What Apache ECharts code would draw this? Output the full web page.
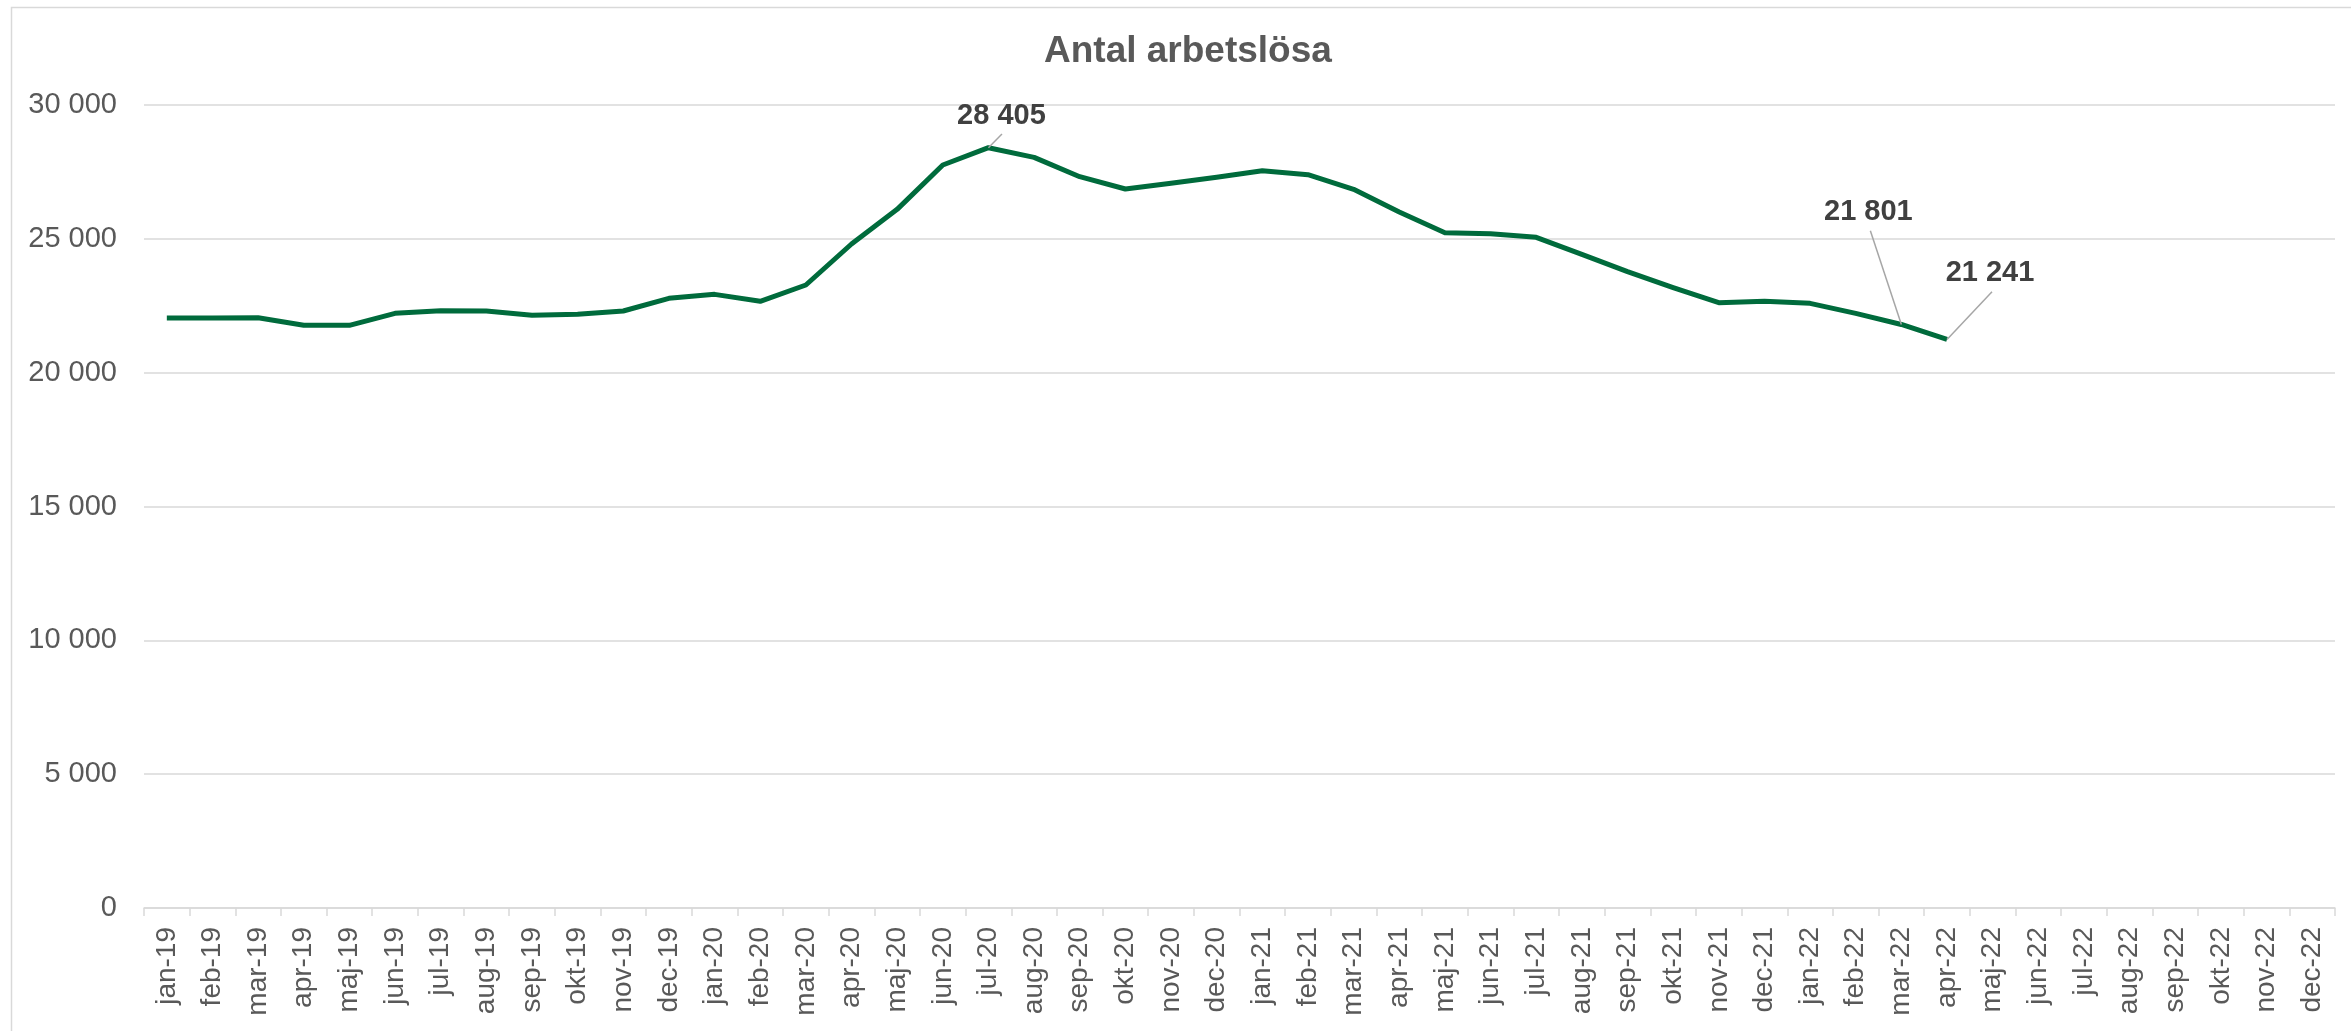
<!DOCTYPE html>
<html>
<head>
<meta charset="utf-8">
<script src="https://cdn.jsdelivr.net/npm/echarts@6/dist/echarts.min.js"></script>
<style>
html,body{margin:0;padding:0;background:#fff;}
#chart{width:2351px;height:1031px;}
</style>
</head>
<body>
<div id="chart"></div>
<script>
const categories = [
  'jan-19','feb-19','mar-19','apr-19','maj-19','jun-19','jul-19','aug-19','sep-19','okt-19','nov-19','dec-19',
  'jan-20','feb-20','mar-20','apr-20','maj-20','jun-20','jul-20','aug-20','sep-20','okt-20','nov-20','dec-20',
  'jan-21','feb-21','mar-21','apr-21','maj-21','jun-21','jul-21','aug-21','sep-21','okt-21','nov-21','dec-21',
  'jan-22','feb-22','mar-22','apr-22','maj-22','jun-22','jul-22','aug-22','sep-22','okt-22','nov-22','dec-22'
];
const unemployed = [
  22042, 22042, 22053, 21769, 21769, 22217, 22316, 22303, 22142, 22180, 22303, 22777,
  22926, 22665, 23275, 24807, 26102, 27758, 28405, 28045, 27322, 26862, 27074, 27298,
  27546, 27397, 26849, 26000, 25230, 25192, 25056, 24421, 23773, 23175, 22614, 22665,
  22590, 22217, 21801, 21241
];
const labeledMonths = ['jul-20', 'mar-22', 'apr-22'];
const yMin = 0, yMax = 30000, yStep = 5000;
const titleText = 'Antal arbetslösa';

function fmt(v) {
  return String(Math.round(v)).replace(/\B(?=(\d{3})+(?!\d))/g, ' ');
}

// label offsets (dx, dy) relative to default 'top' position
const labelOffsets = {
  'jul-20': [13, -12],
  'mar-22': [-33, -93],
  'apr-22': [43, -47]
};
// leader line end offsets from the data point
const leaderOffsets = {
  'jul-20': [13.5, -13.7],
  'mar-22': [-31, -93.6],
  'apr-22': [45, -47.6]
};

const seriesData = unemployed.map((v, i) => {
  const c = categories[i];
  if (labeledMonths.indexOf(c) >= 0) {
    return { value: v, label: { show: true } };
  }
  return v;
});

const borderRect = {
  id: 'border',
  type: 'rect',
  shape: { x: 11.5, y: 7.5, width: 2400, height: 1100 },
  style: { fill: null, stroke: '#d9d9d9', lineWidth: 1.5 },
  silent: true,
  z: -1
};

const chart = echarts.init(document.getElementById('chart'), null, { renderer: 'canvas' });
chart.setOption({
  animation: false,
  backgroundColor: '#ffffff',
  title: {
    text: titleText,
    left: 1044,
    top: 33,
    padding: 0,
    textStyle: {
      fontFamily: 'Liberation Sans, Arial, sans-serif',
      fontSize: 37,
      fontWeight: 'bold',
      color: '#595959'
    }
  },
  graphic: [borderRect],
  grid: { left: 144, right: 16, top: 105, bottom: 123, containLabel: false },
  xAxis: {
    type: 'category',
    data: categories,
    boundaryGap: true,
    axisLine: { show: true, lineStyle: { color: '#d9d9d9', width: 1.5 } },
    axisTick: { show: true, length: 8, lineStyle: { color: '#d9d9d9', width: 1.5 } },
    axisLabel: {
      interval: 0,
      rotate: 90,
      margin: 19,
      fontFamily: 'Liberation Sans, Arial, sans-serif',
      fontSize: 28,
      color: '#595959'
    },
    splitLine: { show: false }
  },
  yAxis: {
    type: 'value',
    min: yMin,
    max: yMax,
    interval: yStep,
    axisLine: { show: false },
    axisTick: { show: false },
    axisLabel: {
      margin: 27,
      fontFamily: 'Liberation Sans, Arial, sans-serif',
      fontSize: 29,
      color: '#595959',
      formatter: fmt
    },
    splitLine: { show: true, lineStyle: { color: '#d9d9d9', width: 1.5 } }
  },
  series: [{
    type: 'line',
    data: seriesData,
    showSymbol: true,
    symbol: 'circle',
    symbolSize: 0,
    lineStyle: { color: '#006B3C', width: 5, join: 'round' },
    itemStyle: { color: '#006B3C' },
    label: {
      show: false,
      position: 'top',
      distance: 5,
      fontFamily: 'Liberation Sans, Arial, sans-serif',
      fontSize: 29,
      fontWeight: 'bold',
      color: '#404040',
      formatter: p => fmt(p.value)
    },
    labelLine: { show: false },
    labelLayout: function (p) {
      const c = categories[p.dataIndex];
      const o = labelOffsets[c];
      if (!o) return {};
      return { dx: o[0], dy: o[1] };
    }
  }]
});

// leader lines from each labelled point toward its label
const leaders = labeledMonths.map(m => {
  const idx = categories.indexOf(m);
  const p = chart.convertToPixel({ seriesIndex: 0 }, [idx, unemployed[idx]]);
  const o = leaderOffsets[m];
  return {
    type: 'line',
    shape: { x1: p[0], y1: p[1], x2: p[0] + o[0], y2: p[1] + o[1] },
    style: { stroke: '#a6a6a6', lineWidth: 1.5 },
    silent: true,
    z: 10
  };
});
chart.setOption({ graphic: [borderRect].concat(leaders) }, { replaceMerge: ['graphic'] });
</script>
</body>
</html>
